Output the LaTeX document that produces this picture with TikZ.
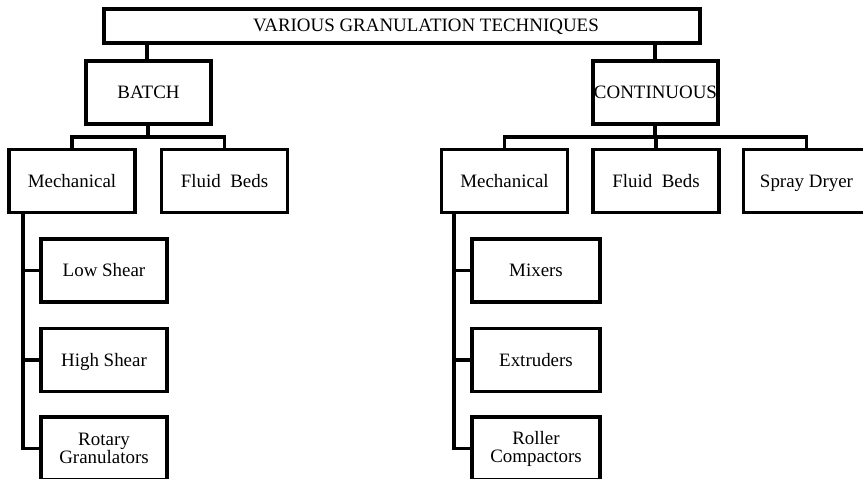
\documentclass[tikz,border=0pt]{standalone}
\usepackage{fontspec}
\setmainfont{Liberation Serif}
\begin{document}
\begin{tikzpicture}[x=0.75pt,y=-0.75pt,
  box/.style={draw=black, line width=2.3pt, minimum width=126*0.75pt, minimum height=63*0.75pt,
    inner sep=0pt, align=center, font=\fontsize{14.2}{13.5}\selectfont},
  oneline/.style={text height=9pt, text depth=0pt},
  link/.style={draw=black, line width=2.3pt}]
\useasboundingbox (0,0) rectangle (863,478);
\fill[white] (0,0) rectangle (863,478);
\clip (0,0) rectangle (863,478);

% title box
\node[box, minimum width=596*0.75pt, minimum height=34*0.75pt] (root) at (402,26) {};
\node[inner sep=0pt, oneline, font=\fontsize{14.2}{13.5}\selectfont] (roottext) at (426,26) {VARIOUS GRANULATION TECHNIQUES};

% second level
\node[box, oneline, minimum width=125*0.75pt] (batch) at (148.5,92.5) {BATCH};
\node[box, oneline, minimum width=125*0.75pt] (cont) at (655.5,92.5) {CONTINUOUS};

% third level
\node[box, oneline] (bmech) at (72,181) {Mechanical};
\node[box, oneline] (bfluid) at (224.5,181) {Fluid\ \ Beds};
\node[box, oneline] (cmech) at (504.5,181) {Mechanical};
\node[box, oneline] (cfluid) at (656,181) {Fluid\ \ Beds};
\node[box, oneline] (spray) at (806.5,181) {Spray Dryer};

% batch mechanical types
\node[box, oneline] (low) at (104,270.5) {Low Shear};
\node[box, oneline] (high) at (104,360) {High Shear};
\node[box] (rotary) at (104,448.5) {Rotary\\Granulators};

% continuous mechanical types
\node[box, oneline, minimum width=128*0.75pt] (mixers) at (536,270.5) {Mixers};
\node[box, oneline, minimum width=128*0.75pt] (extr) at (536,360) {Extruders};
\node[box, minimum width=128*0.75pt] (roller) at (536,448.5) {Roller\\Compactors};

% root to second level
\draw[link] (batch.north -| 147,0) -- (root.south -| 147,0);
\draw[link] (cont.north -| 655,0) -- (root.south -| 655,0);

% batch branches
\coordinate (bbus) at (148,137);
\draw[link] (batch.south -| bbus) -- (bbus);
\draw[link] (bmech.north) -- (bmech.north |- bbus) -| (bfluid.north);

% continuous branches
\coordinate (cbus) at (655,137);
\draw[link] (cont.south -| cbus) -- (cbus);
\draw[link] (cmech.north) -- (cmech.north |- cbus) -| (spray.north);
\draw[link] (cfluid.north) -- (cfluid.north |- cbus);

% batch mechanical spine
\coordinate (bspine) at (23,213);
\draw[link] (bspine) |- (rotary.west);
\draw[link] (bspine |- low.west) -- (low.west);
\draw[link] (bspine |- high.west) -- (high.west);

% continuous mechanical spine
\coordinate (cspine) at (454,213);
\draw[link] (cspine) |- (roller.west);
\draw[link] (cspine |- mixers.west) -- (mixers.west);
\draw[link] (cspine |- extr.west) -- (extr.west);
\end{tikzpicture}
\end{document}
